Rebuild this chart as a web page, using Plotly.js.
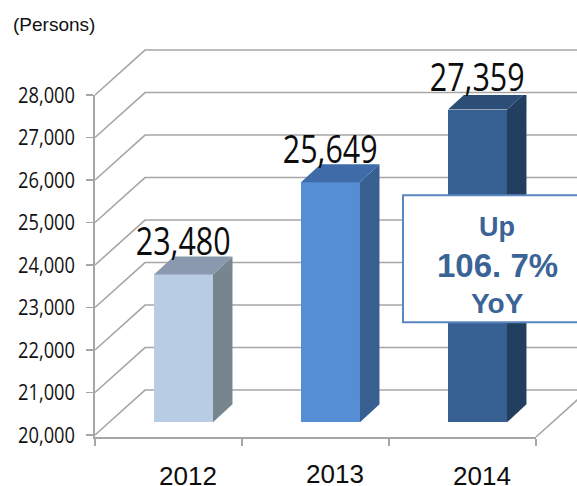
<!DOCTYPE html>
<html>
<head>
<meta charset="utf-8">
<script src="https://cdn.plot.ly/plotly-3.0.1.min.js"></script>
<style>html,body{margin:0;padding:0;background:#fff}#c{width:577px;height:486px}</style>
</head>
<body>
<div id="c"></div>
<script>
const categories = ["2012", "2013", "2014"];
const persons = [23480, 25649, 27359];
const valueTicks = [20000, 21000, 22000, 23000, 24000, 25000, 26000, 27000, 28000];
const frontColors = ["#b8cce4", "#558ed5", "#376092"];
const topColors = ["#8a99ad", "#3f6ca8", "#2c4d75"];
const sideColors = ["#77858f", "#375f8f", "#233f5f"];
const calloutLines = ["Up", "106. 7%", "YoY"];

const W = 577, H = 486, L = 95, T = 94.5, R = 41, B = 49;
const pxPerCat = (W - L - R) / 3;
const yMax = 28000, yMin = 19953;
const pxPerVal = (H - T - B) / (yMax - yMin);
const barFloorLift = 298;
const barShift = 0.602, barWidth = 0.401;
const sideDx = 19.5 / pxPerCat, sideDy = 18 / pxPerVal;
const wallDx = 50 / pxPerCat, wallDy = 45 / pxPerVal;
const NARROW = '"Open Sans", "Liberation Sans", sans-serif';
const ARIAL = '"Liberation Sans", Arial, sans-serif';

const paperX = x => x / 3;
const paperY = v => (v - yMin) / (yMax - yMin);

const traces = [];
const xs = categories.map((c, i) => i + barShift);
traces.push({
  type: "bar", x: xs, base: persons.map(() => 20000 + barFloorLift),
  y: persons.map(v => v - 20000), width: barWidth,
  marker: {color: frontColors, line: {width: 0}}, cliponaxis: false, hoverinfo: "skip"
});
categories.forEach((c, i) => {
  const xl = xs[i] - barWidth / 2, xr = xs[i] + barWidth / 2;
  const top = persons[i] + barFloorLift, bot = 20000 + barFloorLift;
  traces.push({type: "scatter", mode: "lines", fill: "toself", fillcolor: sideColors[i], line: {width: 0},
    x: [xr, xr + sideDx, xr + sideDx, xr, xr], y: [bot, bot + sideDy, top + sideDy, top, bot],
    cliponaxis: false, hoverinfo: "skip"});
  traces.push({type: "scatter", mode: "lines", fill: "toself", fillcolor: topColors[i], line: {width: 0},
    x: [xl, xr, xr + sideDx, xl + sideDx, xl], y: [top, top, top + sideDy, top + sideDy, top],
    cliponaxis: false, hoverinfo: "skip"});
});

const gridLine = {color: "#a6a6a6", width: 1.6};
const shapes = [];
valueTicks.forEach(v => {
  shapes.push({type: "path", layer: "below", xref: "paper", yref: "paper", line: gridLine,
    path: `M${paperX(0)},${paperY(v)} L${paperX(wallDx)},${paperY(v + wallDy)} L${paperX(3.4)},${paperY(v + wallDy)}`});
});
shapes.push({type: "line", layer: "below", xref: "paper", yref: "paper", line: gridLine,
  x0: paperX(3), y0: paperY(yMin), x1: paperX(3 + wallDx), y1: paperY(yMin + wallDy)});
shapes.push({type: "rect", layer: "above", xref: "paper", yref: "paper",
  x0: (403 - L) / (W - L - R), x1: (600 - L) / (W - L - R),
  y0: (H - B - 322) / (H - T - B), y1: (H - B - 195) / (H - T - B),
  fillcolor: "#ffffff", line: {color: "#5b87c0", width: 2}});

const annotations = [];
categories.forEach((c, i) => {
  annotations.push({xref: "x", yref: "y", x: xs[i], y: persons[i] + barFloorLift, yshift: 34,
    text: persons[i].toLocaleString("en-US"), showarrow: false, xanchor: "center", yanchor: "middle",
    font: {family: NARROW, size: 38, color: "#0d0d0d"}});
  annotations.push({xref: "x", yref: "paper", x: xs[i] + 0.03, y: 0, yshift: i === 1 ? -37 : -39,
    text: c, showarrow: false, xanchor: "center", yanchor: "middle",
    font: {family: ARIAL, size: 26, color: "#0d0d0d"}});
});
const pxAnno = (text, px, py, size, bold, color, fam) => ({
  xref: "paper", yref: "paper", x: (px - L) / (W - L - R), y: (H - B - py) / (H - T - B),
  text: bold ? "<b>" + text + "</b>" : text, showarrow: false, xanchor: "center", yanchor: "middle",
  font: {family: fam || ARIAL, size: size, color: color}
});
annotations.push(pxAnno("(Persons)", 53.5, 24, 19, false, "#111111"));
annotations.push(pxAnno(calloutLines[0], 497, 227, 27, true, "#3a6496"));
annotations.push(pxAnno(calloutLines[1], 497, 265, 33, true, "#3a6496"));
annotations.push(pxAnno(calloutLines[2], 497, 303, 28, true, "#3a6496"));

Plotly.newPlot("c", traces, {
  width: W, height: H, showlegend: false, paper_bgcolor: "#fff", plot_bgcolor: "rgba(0,0,0,0)",
  margin: {l: L, r: R, t: T, b: B, pad: 0},
  bargap: 0,
  xaxis: {range: [0, 3], tickmode: "array", tickvals: [0, 1, 2, 3], showticklabels: false,
    ticks: "outside", ticklen: 7, tickwidth: 1.6, tickcolor: "#a6a6a6",
    showline: true, linecolor: "#a6a6a6", linewidth: 1.6, showgrid: false, zeroline: false, fixedrange: true},
  yaxis: {range: [yMin, yMax], tickmode: "array", tickvals: valueTicks,
    ticktext: valueTicks.map(v => v.toLocaleString("en-US")),
    ticks: "outside", ticklen: 7, tickwidth: 1.6, tickcolor: "#a6a6a6", ticklabelstandoff: 7,
    tickfont: {family: NARROW, size: 22, color: "#111111"},
    showline: true, linecolor: "#a6a6a6", linewidth: 1.6, showgrid: false, zeroline: false, fixedrange: true},
  shapes, annotations
}, {displayModeBar: false, staticPlot: true}).then(gd => {
  // The source font is a condensed one: squeeze the matching labels horizontally.
  const squeeze = (el, scale, anchor) => {
    const b = el.getBBox();
    const ax = anchor === "right" ? b.x + b.width : b.x + b.width / 2;
    const old = el.getAttribute("transform") || "";
    el.setAttribute("transform", `${old} translate(${ax} 0) scale(${scale} 1) translate(${-ax} 0)`);
  };
  gd.querySelectorAll(".ytick text").forEach(t => squeeze(t, 0.83, "right"));
  gd.querySelectorAll(".annotation-text").forEach(t => {
    if (/^\d\d,\d{3}$/.test(t.textContent)) squeeze(t, 0.8, "center");
  });
});
</script>
</body>
</html>
